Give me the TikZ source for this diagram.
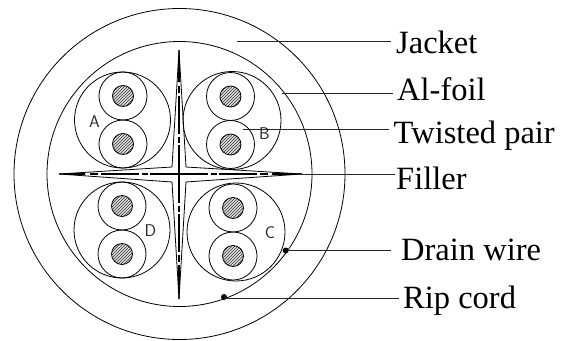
\documentclass[tikz,border=0pt]{standalone}
\usepackage{fontspec}
\setmainfont{Liberation Serif}
\usetikzlibrary{patterns}
\tikzset{x=1pt,y=-1pt,
 ring/.style={draw=black,line width=0.8pt,fill=none},
 wirecore/.style={draw=black,line width=0.8pt,preaction={fill=black!12},pattern=north east lines,pattern color=black!80},
 leader/.style={draw=black!85,line width=0.8pt},
 lab/.style={anchor=base west,inner sep=0pt,font=\fontsize{32.5}{34}\selectfont},
 tag/.style={inner sep=0pt,font=\sffamily\fontsize{17}{17}\selectfont,text=black!85},
 dot/.style={circle,fill=black,inner sep=0pt,minimum size=6pt},
 spine/.style={draw=black,line width=1.2pt,dash pattern=on 29pt off 2.5pt on 6pt off 2.5pt on 38pt off 3pt on 8pt off 100pt}}
\begin{document}
\begin{tikzpicture}
\useasboundingbox (0,0) rectangle (569,340);
\fill[white] (0,0) rectangle (569,340);
\coordinate (ctr) at (179.5,174);
\draw[ring] (ctr) circle[radius=165.5];
\draw[ring] (ctr) circle[radius=132.5];
\foreach \x/\y/\wx/\r in {122.5/120/123/48,232/120.5/230.5/49,236/232/233/49,122/230/122/48}{
 \draw[ring] (\x,\y) circle[radius=\r];
 \draw[ring] (\wx,\y-24) circle[radius=24];
 \draw[ring] (\wx,\y+24) circle[radius=24];
 \draw[wirecore] (\wx,\y-24) circle[radius=10.5];
 \draw[wirecore] (\wx,\y+24) circle[radius=10.5];
}
\node[tag] (ta) at (94.5,121.5) {A};
\node[tag] (tb) at (264.5,134) {B};
\node[tag] (tc) at (270,232.5) {C};
\node[tag] (td) at (150.5,230.5) {D};
\draw[line width=0.8pt,line join=miter] (179,50) -- (186,167) -- (302,174) -- (186,182) -- (179,299) -- (172,182) -- (59,174) -- (172,167) -- cycle;
\fill (59,173.4) -- (85,172.8) -- (85,175.2) -- (59,174.6) -- cycle;
\fill (302,173.4) -- (272,172.8) -- (272,175.2) -- (302,174.6) -- cycle;
\fill (178.4,50) -- (177.8,82) -- (180.2,82) -- (179.6,50) -- cycle;
\fill (178.4,299) -- (177.8,265) -- (180.2,265) -- (179.6,299) -- cycle;
\draw[spine] (179,174) -- (90,174);
\draw[spine] (179,174) -- (268,174);
\draw[spine] (179,174) -- (179,86);
\draw[spine] (179,174) -- (179,262);
\coordinate (j) at (237,41);
\coordinate (al) at (282,93);
\coordinate (tp) at (243,129);
\coordinate (fi) at (302,174);
\node[dot] (dw) at (285.7,250.5) {};
\node[dot] (rc) at (224,297) {};
\node[lab] (lj) at (396,53) {Jacket};
\node[lab] (la) at (397,100) {Al-foil};
\node[lab] (lt) at (393.5,143) {Twisted pair};
\node[lab] (lf) at (396,189) {Filler};
\node[lab] (ld) at (401,260) {Drain wire};
\node[lab] (lr) at (403,308) {Rip cord};
\draw[leader] (j) -- (391,41);
\draw[leader] (al) -- (393,93);
\draw[leader] (tp) -- (389,129);
\draw[leader] (fi) -- (395,174);
\draw[leader] (dw) -- (391,250.5);
\draw[leader] (rc.center) -- (224,298) -- (399,298);
\end{tikzpicture}
\end{document}
